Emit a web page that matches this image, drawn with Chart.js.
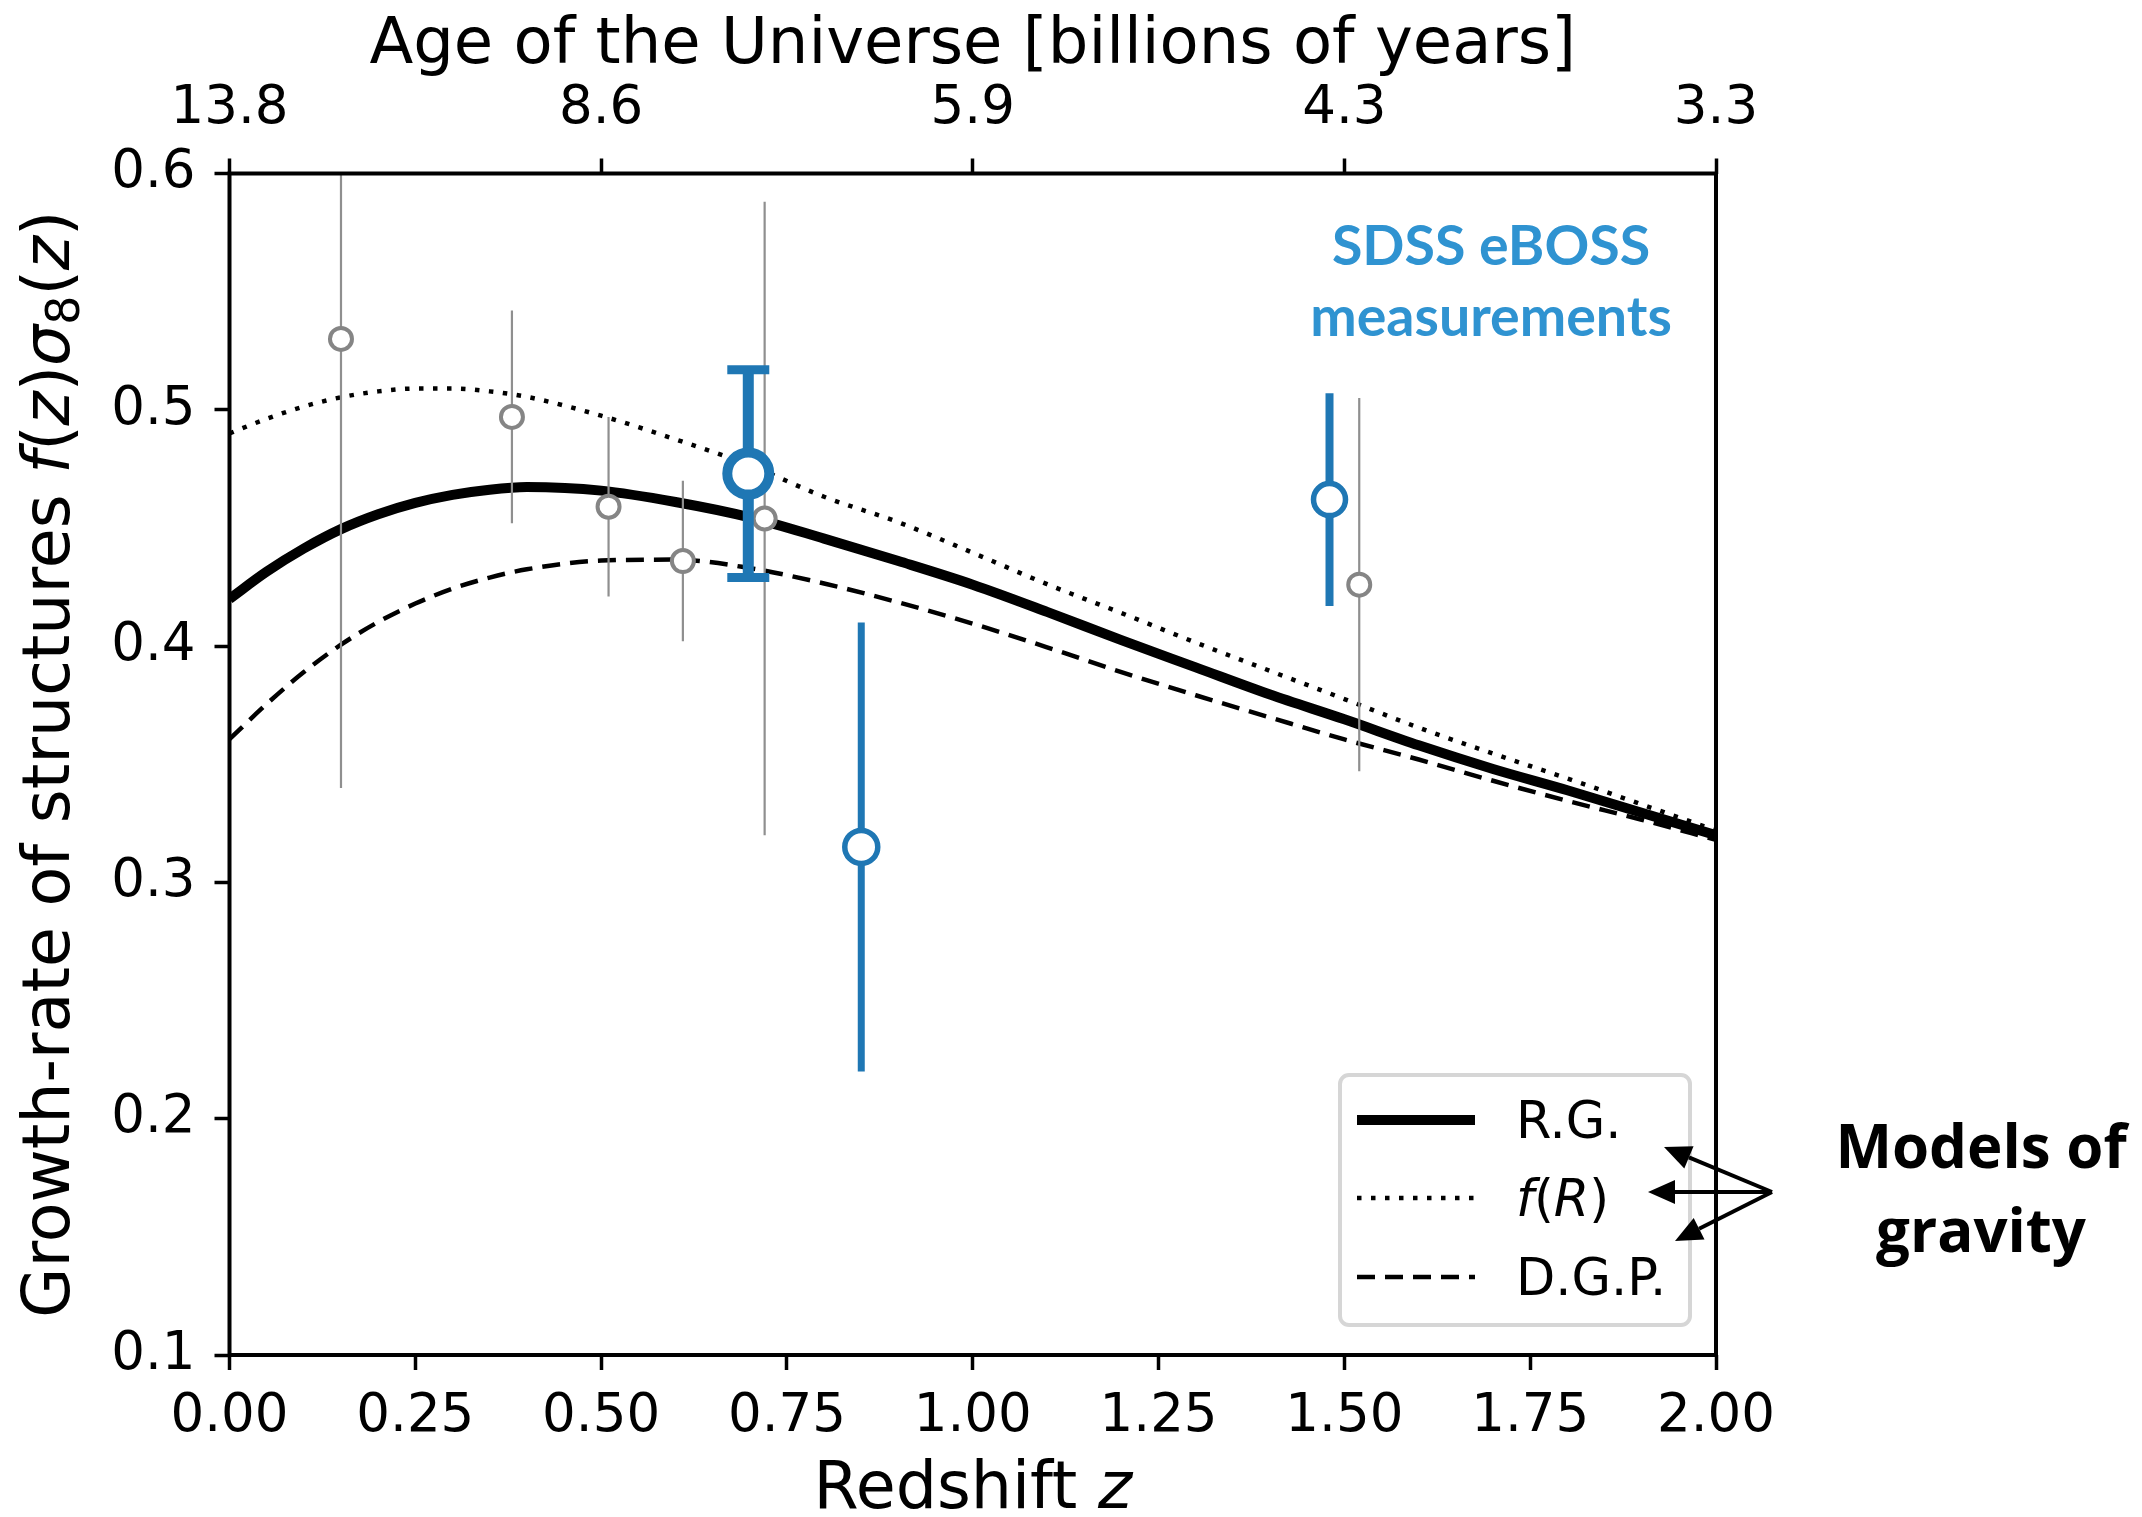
<!DOCTYPE html>
<html>
<head>
<meta charset="utf-8">
<script src="https://cdn.jsdelivr.net/npm/chart.js@4.4.1/dist/chart.umd.min.js"></script>
<style>
  html, body { margin: 0; padding: 0; background: #fff; }
  #wrap { width: 2142px; height: 1517px; }
</style>
</head>
<body>
<div id="wrap"><canvas id="chart" width="2142" height="1517"></canvas></div>
<script>
// Theory curves for f(z)*sigma8(z)
const zGrid    = [0, 0.05, 0.1, 0.15, 0.2, 0.25, 0.3, 0.35, 0.4, 0.5, 0.6, 0.7, 0.8, 0.9, 1.0, 1.1, 1.2, 1.3, 1.4, 1.5, 1.6, 1.7, 1.8, 1.9, 2.0];
const rgCurve  = [0.420, 0.4315, 0.4413, 0.4495, 0.4558, 0.4606, 0.464, 0.4662, 0.4673, 0.4658, 0.461, 0.4545, 0.4455, 0.436, 0.426, 0.4145, 0.4025, 0.391, 0.3795, 0.369, 0.358, 0.348, 0.339, 0.3295, 0.320];
const fRCurve  = [0.490, 0.4962, 0.5014, 0.5053, 0.5078, 0.509, 0.509, 0.5078, 0.5055, 0.4975, 0.4875, 0.4765, 0.4632, 0.4524, 0.4395, 0.4262, 0.414, 0.4015, 0.3895, 0.3776, 0.3655, 0.3545, 0.344, 0.333, 0.322];
const dgpCurve = [0.3606, 0.3755, 0.389, 0.4006, 0.4102, 0.418, 0.4243, 0.429, 0.4325, 0.4362, 0.4366, 0.433, 0.4265, 0.4185, 0.4095, 0.3995, 0.389, 0.3792, 0.3698, 0.3605, 0.352, 0.343, 0.3345, 0.3265, 0.318];
const curveLabels = ['R.G.', '*f*(*R*)', 'D.G.P.'];

// earlier surveys (grey)
const otherZ   = [0.15, 0.38, 0.51, 0.61, 0.72, 1.52];
const otherVal = [0.530, 0.497, 0.459, 0.436, 0.454, 0.426];
const otherErr = [0.190, 0.045, 0.038, 0.034, 0.134, 0.079];

// SDSS eBOSS (blue)
const ebossZ   = [0.698, 0.85, 1.48];
const ebossVal = [0.473, 0.315, 0.462];
const ebossErr = [0.044, 0.095, 0.045];

// top axis: age of the universe at z = 0, 0.5, 1, 1.5, 2
const ageTicks = ['13.8', '8.6', '5.9', '4.3', '3.3'];

const BLUE = '#1f77b4';
const GREY = '#858585';
const FONT = "'DejaVu Sans', sans-serif";

Chart.defaults.font.family = FONT;
Chart.defaults.color = '#000';

const curve = (vals, label, width, dash) => ({
    type: 'line',
    label,
    data: zGrid.map((z, i) => ({ x: z, y: vals[i] })),
    borderColor: '#000',
    borderWidth: width,
    borderDash: dash,
    borderCapStyle: 'butt',
    cubicInterpolationMode: 'monotone',
    pointRadius: 0,
    fill: false,
    clip: 0,
    order: 10
});

const datasets = [
    curve(rgCurve, curveLabels[0], 10, []),
    curve(fRCurve, curveLabels[1], 4.5, [4.5, 9.5]),
    curve(dgpCurve, curveLabels[2], 4.5, [18, 10])
];

// error bars: one two-point line per measurement
otherZ.forEach((z, i) => {
    datasets.push({
        type: 'line',
        data: [{ x: z, y: otherVal[i] - otherErr[i] }, { x: z, y: otherVal[i] + otherErr[i] }],
        borderColor: '#8f8f8f',
        borderWidth: 2.2,
        pointRadius: 0,
        clip: 0,
        order: 8
    });
});
datasets.push({
    type: 'line',
    data: otherZ.map((z, i) => ({ x: z, y: otherVal[i] })),
    showLine: false,
    pointStyle: 'circle',
    pointRadius: 11,
    pointBorderWidth: 4,
    pointBorderColor: GREY,
    pointBackgroundColor: '#fff',
    clip: 0,
    order: 7
});

const ebossBarWidth = [11, 7, 8];
ebossZ.forEach((z, i) => {
    const capped = i === 0; // only the first eBOSS point has caps
    datasets.push({
        type: 'line',
        data: [{ x: z, y: ebossVal[i] - ebossErr[i] }, { x: z, y: ebossVal[i] + ebossErr[i] }],
        borderColor: BLUE,
        borderWidth: ebossBarWidth[i],
        borderCapStyle: 'butt',
        pointStyle: 'line',
        pointRadius: capped ? 21 : 0,
        pointBorderWidth: 9,
        pointBorderColor: BLUE,
        clip: 0,
        order: 6
    });
});
datasets.push({
    type: 'line',
    data: ebossZ.map((z, i) => ({ x: z, y: ebossVal[i] })),
    showLine: false,
    pointStyle: 'circle',
    pointRadius: [21, 16.5, 16],
    pointBorderWidth: [10, 5.5, 5.5],
    pointBorderColor: BLUE,
    pointBackgroundColor: '#fff',
    clip: 0,
    order: 5
});

// '*' toggles italic, '_x' is a subscript
function richSegments(text) {
    const segs = [];
    let italic = false;
    for (let i = 0; i < text.length; i++) {
        const c = text[i];
        if (c === '*') { italic = !italic; continue; }
        if (c === '_') { segs.push({ t: text[i + 1], italic: false, sub: true }); i++; continue; }
        const last = segs[segs.length - 1];
        if (last && last.italic === italic && !last.sub) last.t += c;
        else segs.push({ t: c, italic, sub: false });
    }
    return segs;
}

function drawRich(ctx, text, x, y, size, align) {
    const segs = richSegments(text);
    const fontFor = s => `${s.italic ? 'italic ' : ''}${s.sub ? Math.round(size * 0.7) : size}px ${FONT}`;
    let total = 0;
    segs.forEach(s => { ctx.font = fontFor(s); s.w = ctx.measureText(s.t).width; total += s.w; });
    let cx = align === 'center' ? x - total / 2 : x;
    ctx.textAlign = 'left';
    ctx.textBaseline = 'alphabetic';
    segs.forEach(s => {
        ctx.font = fontFor(s);
        ctx.fillText(s.t, cx, s.sub ? y + size * 0.16 : y);
        cx += s.w;
    });
}

function arrow(ctx, x0, y0, x1, y1) {
    const ang = Math.atan2(y1 - y0, x1 - x0);
    const hl = 27, hw = 12;
    const bx = x1 - hl * Math.cos(ang), by = y1 - hl * Math.sin(ang);
    ctx.beginPath();
    ctx.moveTo(x0, y0);
    ctx.lineTo(bx, by);
    ctx.stroke();
    ctx.beginPath();
    ctx.moveTo(x1, y1);
    ctx.lineTo(bx + hw * Math.sin(ang), by - hw * Math.cos(ang));
    ctx.lineTo(bx - hw * Math.sin(ang), by + hw * Math.cos(ang));
    ctx.closePath();
    ctx.fill();
}

const extras = {
    id: 'extras',
    afterDraw(chart) {
        const ctx = chart.ctx;
        const a = chart.chartArea;
        ctx.save();

        // axes frame
        ctx.strokeStyle = '#000';
        ctx.lineWidth = 4;
        ctx.strokeRect(a.left, a.top, a.right - a.left, a.bottom - a.top);

        ctx.fillStyle = '#000';
        // bottom axis title
        drawRich(ctx, 'Redshift *z*', (a.left + a.right) / 2, a.bottom + 153, 65, 'center');
        // left axis title, rotated
        ctx.save();
        ctx.translate(69, (a.top + a.bottom) / 2);
        ctx.rotate(-Math.PI / 2);
        drawRich(ctx, 'Growth-rate of structures *f*(*z*)*σ*_8(*z*)', 0, 0, 65, 'center');
        ctx.restore();

        // eBOSS annotation
        ctx.fillStyle = '#2f93d1';
        ctx.font = "bold 55.5px Lato, 'Open Sans', sans-serif";
        ctx.textAlign = 'center';
        ctx.textBaseline = 'alphabetic';
        ctx.fillText('SDSS eBOSS', 1491, 265);
        ctx.fillText('measurements', 1491, 336);

        // legend
        const bx = a.right - 376, by = a.bottom - 280, bw = 350, bh = 250;
        ctx.fillStyle = 'rgba(255,255,255,0.8)';
        ctx.strokeStyle = '#d6d6d6';
        ctx.lineWidth = 4;
        ctx.beginPath();
        ctx.roundRect(bx, by, bw, bh, 9);
        ctx.fill();
        ctx.stroke();
        const rowY = [45, 123, 202];
        for (let i = 0; i < 3; i++) {
            const ds = chart.data.datasets[i];
            ctx.strokeStyle = ds.borderColor;
            ctx.lineWidth = ds.borderWidth;
            ctx.setLineDash(ds.borderDash);
            ctx.lineCap = 'butt';
            ctx.beginPath();
            ctx.moveTo(bx + 17, by + rowY[i]);
            ctx.lineTo(bx + 135, by + rowY[i]);
            ctx.stroke();
            ctx.setLineDash([]);
            ctx.fillStyle = '#000';
            drawRich(ctx, ds.label, bx + 176, by + rowY[i] + 18, 51, 'left');
        }

        // "Models of gravity" with arrows into the legend
        ctx.fillStyle = '#000';
        ctx.font = "bold 60px 'Open Sans', Lato, sans-serif";
        ctx.textAlign = 'center';
        ctx.fillText('Models of', 1981, 1168);
        ctx.fillText('gravity', 1981, 1252);

        ctx.strokeStyle = '#000';
        ctx.lineWidth = 4;
        arrow(ctx, 1772, 1192, 1664, 1147);
        arrow(ctx, 1772, 1192, 1648, 1192);
        arrow(ctx, 1772, 1192, 1675, 1241);

        ctx.restore();
    }
};

const tickFont = { size: 53, family: FONT };
const gridOpts = { drawOnChartArea: false, drawTicks: true, tickLength: 15, tickWidth: 3.5, tickColor: '#000' };

new Chart(document.getElementById('chart'), {
    type: 'line',
    data: { datasets },
    plugins: [extras],
    options: {
        responsive: false,
        animation: false,
        layout: { padding: { left: 0, right: 426, top: 0, bottom: 0 } },
        plugins: { legend: { display: false }, tooltip: { enabled: false } },
        scales: {
            x: {
                type: 'linear', position: 'bottom', min: 0, max: 2,
                ticks: { stepSize: 0.25, font: tickFont, color: '#000', padding: 15, maxRotation: 0, autoSkip: false,
                    callback: v => v.toFixed(2) },
                grid: gridOpts,
                border: { display: false },
                afterFit: s => { s.height = 162; }
            },
            x2: {
                type: 'linear', position: 'top', min: 0, max: 2,
                ticks: { stepSize: 0.5, font: tickFont, color: '#000', padding: 17, maxRotation: 0, autoSkip: false,
                    callback: v => ageTicks[Math.round(v / 0.5)] },
                grid: gridOpts,
                border: { display: false },
                title: { display: true, text: 'Age of the Universe [billions of years]', color: '#000',
                    font: { size: 64, family: FONT }, padding: { top: 8, bottom: 0 } },
                afterFit: s => { s.height = 173.5; }
            },
            y: {
                type: 'linear', position: 'left', min: 0.1, max: 0.6,
                ticks: { stepSize: 0.1, font: tickFont, color: '#000', padding: 19,
                    callback: v => v.toFixed(1) },
                grid: gridOpts,
                border: { display: false },
                afterFit: s => { s.width = 229.5; }
            }
        }
    }
});
</script>
</body>
</html>
